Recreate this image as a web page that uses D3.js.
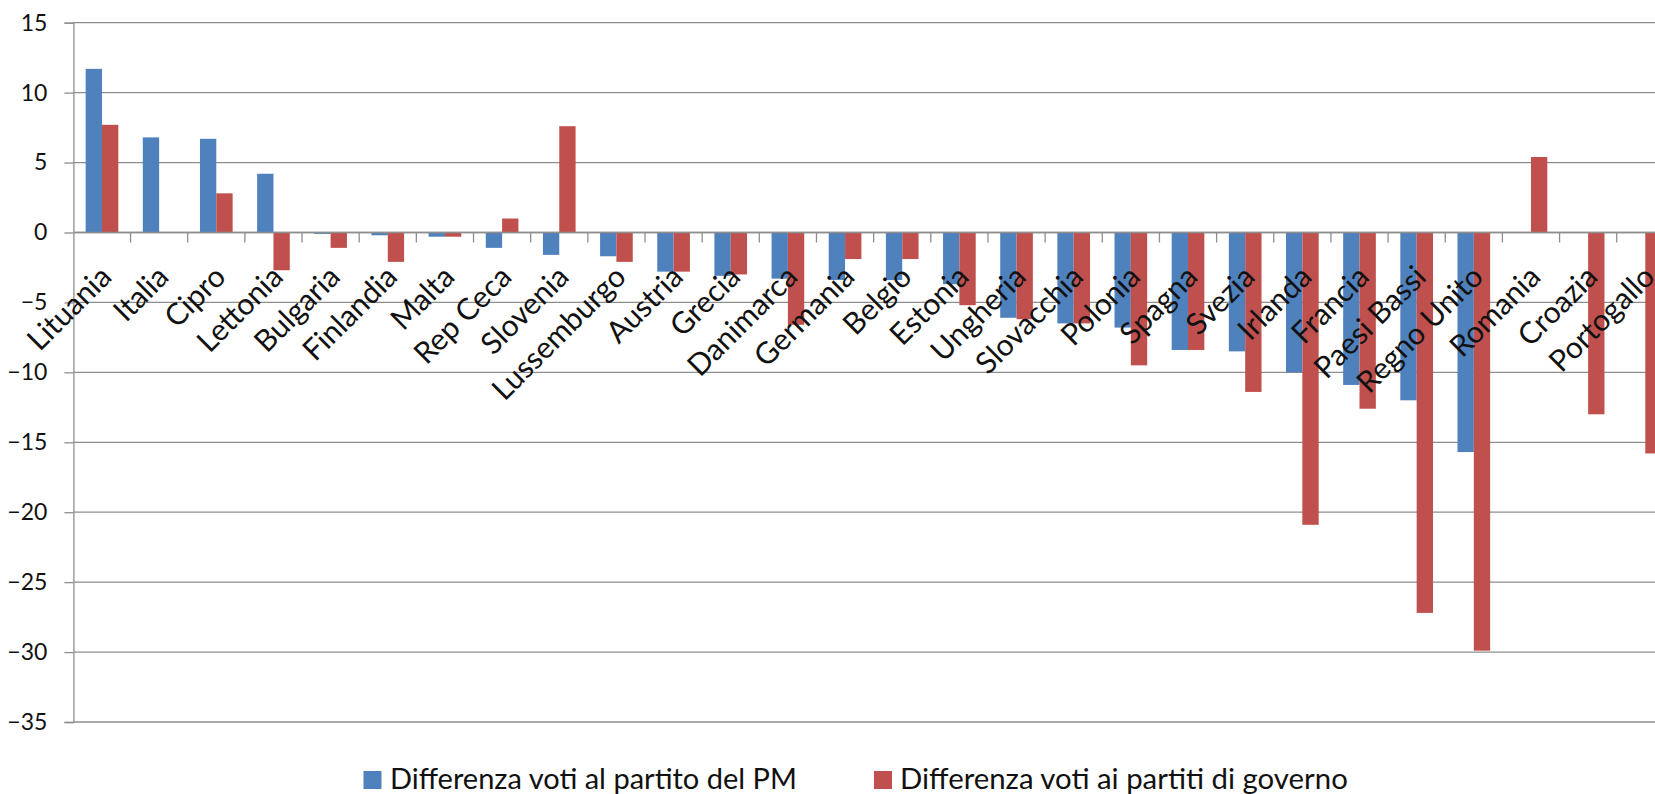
<!DOCTYPE html>
<html>
<head>
<meta charset="utf-8">
<script src="https://cdn.jsdelivr.net/npm/d3@7/dist/d3.min.js"></script>
<style>
  html, body { margin: 0; padding: 0; background: #fff; overflow: hidden; }
  svg { display: block; }
  text { font-family: Lato, "Open Sans", sans-serif; fill: #111; }
</style>
</head>
<body>
<svg id="chart" width="1655" height="794"></svg>
<script>
const categories = ["Lituania", "Italia", "Cipro", "Lettonia", "Bulgaria", "Finlandia", "Malta", "Rep Ceca", "Slovenia", "Lussemburgo", "Austria", "Grecia", "Danimarca", "Germania", "Belgio", "Estonia", "Ungheria", "Slovacchia", "Polonia", "Spagna", "Svezia", "Irlanda", "Francia", "Paesi Bassi", "Regno Unito", "Romania", "Croazia", "Portogallo"];
const pmDiff = [11.7, 6.8, 6.7, 4.2, -0.1, -0.2, -0.3, -1.1, -1.6, -1.7, -2.8, -3.1, -3.3, -3.4, -3.4, -3.7, -6.1, -6.5, -6.8, -8.4, -8.5, -10.0, -10.9, -12.0, -15.7, null, null, null];
const govDiff = [7.7, null, 2.8, -2.7, -1.1, -2.1, -0.3, 1.0, 7.6, -2.1, -2.8, -3.0, -6.6, -1.9, -1.9, -5.2, -6.2, -6.5, -9.5, -8.4, -11.4, -20.9, -12.6, -27.2, -29.9, 5.4, -13.0, -15.8];
const seriesNames = ["Differenza voti al partito del PM", "Differenza voti ai partiti di governo"];
const seriesColors = ["#4F81BD", "#C0504D"];
const yTicks = [15, 10, 5, 0, -5, -10, -15, -20, -25, -30, -35];

const svg = d3.select("#chart");
const left = 73.4, step = 57.16;
const x = d3.scaleBand().domain(categories).range([left, left + step * categories.length])
  .paddingInner(1.5 / 3.5).paddingOuter(0.75 / 3.5);
const x1 = d3.scaleBand().domain([0, 1]).range([0, x.bandwidth()]);
const y = d3.scaleLinear().domain([-35, 15]).range([722, 22.7]);
const gridColor = "#8e8e8e";

// gridlines + y ticks
const yAxis = d3.axisLeft(y).tickValues(yTicks).tickSize(9).tickPadding(17).tickFormat(d3.format("d"));
const gy = svg.append("g").attr("transform", `translate(${left},0)`).call(yAxis);
gy.select(".domain").attr("stroke", gridColor).attr("stroke-width", 1.3);
gy.selectAll(".tick line").attr("stroke", gridColor).attr("stroke-width", 1.3);
gy.selectAll(".tick text").style("font-size", "23px").attr("fill", "#111").style("font-family", "Lato");
svg.append("g").selectAll("line").data(yTicks).join("line")
  .attr("x1", left).attr("x2", 1655)
  .attr("y1", d => y(d)).attr("y2", d => y(d))
  .attr("stroke", gridColor).attr("stroke-width", 1.3);

// bars
const rows = categories.map((c, i) => ({ c, vals: [pmDiff[i], govDiff[i]] }));
const g = svg.append("g");
rows.forEach(r => {
  r.vals.forEach((v, s) => {
    if (v === null || v === undefined) return;
    g.append("rect")
      .attr("x", x(r.c) + x1(s))
      .attr("width", x1.bandwidth())
      .attr("y", y(Math.max(0, v)))
      .attr("height", Math.abs(y(v) - y(0)))
      .attr("fill", seriesColors[s]);
  });
});

// x axis at zero
const xAxisG = svg.append("g");
xAxisG.append("line").attr("x1", left).attr("x2", 1655).attr("y1", y(0)).attr("y2", y(0))
  .attr("stroke", gridColor).attr("stroke-width", 1.3);
xAxisG.selectAll("line.tk").data(d3.range(1, categories.length + 1)).join("line").attr("class", "tk")
  .attr("x1", i => left + i * x.step()).attr("x2", i => left + i * x.step())
  .attr("y1", y(0)).attr("y2", y(0) + 10)
  .attr("stroke", gridColor).attr("stroke-width", 1.3);

// category labels
svg.append("g").selectAll("text").data(categories).join("text")
  .attr("transform", d => `translate(${x(d) + x.bandwidth() / 2 - 4},${y(0) + 31}) rotate(-45)`)
  .attr("text-anchor", "end")
  .attr("dy", "0.72em")
  .style("font-size", "30px")
  .text(d => d);

// legend
const legend = svg.append("g");
const legendPos = [{ sx: 363.5, tx: 390, w: 407 }, { sx: 874, tx: 900, w: 448 }];
seriesNames.forEach((name, i) => {
  const p = legendPos[i];
  legend.append("rect").attr("x", p.sx).attr("y", 771).attr("width", 18).attr("height", 18).attr("fill", seriesColors[i]);
  const t = legend.append("text").attr("x", p.tx).attr("y", 789).style("font-size", "26px").text(name);
  const w = t.node().getComputedTextLength();
  t.style("font-size", (26 * p.w / w).toFixed(2) + "px");
});
</script>
</body>
</html>
